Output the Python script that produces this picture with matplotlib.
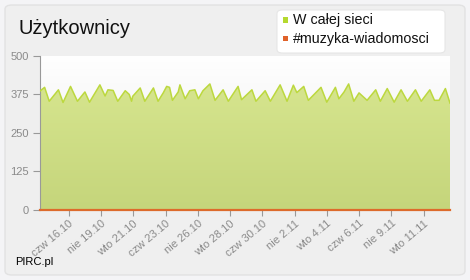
import matplotlib
matplotlib.use('Agg')
import matplotlib.pyplot as plt
import numpy as np
from matplotlib.patches import FancyBboxPatch

plt.rcParams['font.family'] = ['Liberation Sans', 'DejaVu Sans']

# hours since start of range, and user counts (W całej sieci)
hours = [0, 8, 16, 32, 40, 53, 65, 78, 86, 104, 113, 118, 127, 135, 148, 155,
         159, 161, 174, 182, 197, 205, 214, 220, 225, 230, 240, 243, 252, 260,
         269, 275, 283, 295, 304, 318, 327, 339, 344, 350, 359, 368, 375, 391,
         400, 417, 429, 440, 446, 458, 466, 488, 498, 513, 519, 528, 536, 545,
         554, 568, 583, 591, 603, 615, 627, 638, 652, 662, 677, 685, 693, 704, 712]
users_all = [385, 397, 352, 389, 348, 400, 352, 382, 349, 405, 369, 389, 387, 352, 386, 374,
             352, 368, 395, 352, 395, 352, 379, 400, 397, 355, 382, 405, 360, 386,
             389, 360, 386, 408, 355, 389, 352, 386, 400, 357, 373, 389, 352, 386,
             352, 405, 352, 404, 380, 400, 355, 397, 349, 397, 360, 382, 408, 352,
             379, 355, 389, 352, 393, 349, 389, 352, 389, 352, 389, 355, 355, 393, 346]
# channel #muzyka-wiadomosci is practically zero
users_chan = [0] * len(hours)

tick_labels = ['czw 16.10', 'nie 19.10', 'wto 21.10', 'czw 23.10', 'nie 26.10', 'wto 28.10',
               'czw 30.10', 'nie 2.11', 'wto 4.11', 'czw 6.11', 'nie 9.11', 'wto 11.11']
tick_hours = [50 + 56 * i for i in range(len(tick_labels))]
y_ticks = [0, 125, 250, 375, 500]

W, H = 470, 280
fig = plt.figure(figsize=(W / 100, H / 100), dpi=100)
fig.patch.set_facecolor('#f4f4f6')

# outer panel
panel = FancyBboxPatch((5 / W, 5 / H), 460 / W, 270 / H,
                       boxstyle='round,pad=0,rounding_size=0.015',
                       transform=fig.transFigure, facecolor='#efefef',
                       edgecolor='#e2e2e2', linewidth=1, zorder=-10)
fig.patches.append(panel)

ax = fig.add_axes([40 / W, 70 / H, 410 / W, 154.5 / H])
ax.set_zorder(1)

# plot background gradient (white top -> light grey)
bg = np.linspace(0, 1, 256).reshape(-1, 1)
ax.imshow(bg, extent=[0, 712, 0, 500], aspect='auto', origin='lower',
          cmap=matplotlib.colors.LinearSegmentedColormap.from_list('bg', ['#e9e9e9', '#ffffff']),
          zorder=0)

# filled area with vertical gradient
poly = ax.fill_between(hours, 0, users_all, facecolor='none', edgecolor='none')
grad = ax.imshow(np.linspace(0, 1, 256).reshape(-1, 1), extent=[0, 712, 0, 410],
                 aspect='auto', origin='lower', zorder=1,
                 cmap=matplotlib.colors.LinearSegmentedColormap.from_list('fill', ['#c5d57b', '#d6e58e']))
grad.set_clip_path(poly.get_paths()[0], ax.transData)
ax.set_xlim(0, 712)
ax.set_ylim(0, 500)
ax.plot(hours, users_all, color='#bcd83e', linewidth=1.1, zorder=3)
ax.plot(hours, users_chan, color='#dd6b2c', linewidth=1.6, zorder=4, clip_on=False)

ax.set_yticks(y_ticks)
ax.set_yticklabels([str(v) for v in y_ticks], color='#8a8a8a', fontsize=8)
ax.set_xticks(tick_hours)
ax.set_xticklabels(tick_labels, rotation=40, ha='right', rotation_mode='anchor',
                   color='#8a8a8a', fontsize=8)
ax.tick_params(axis='y', length=5, color='#999999', pad=3)
ax.tick_params(axis='x', length=4, color='#999999', pad=2)
for s in ['top', 'right', 'bottom']:
    ax.spines[s].set_visible(False)
ax.spines['left'].set_color('#999999')
ax.spines['left'].set_linewidth(0.8)

fig.text(18 / W, 1 - 29 / H, 'Użytkownicy', fontsize=14.5, color='#111111', va='center', ha='left')
fig.text(15 / W, 1 - 262 / H, 'PIRC.pl', fontsize=8, color='#000000', va='center', ha='left')

# legend box
leg = FancyBboxPatch((277 / W, 1 - 53 / H), 168 / W, 43 / H,
                     boxstyle='round,pad=0,rounding_size=0.012',
                     transform=fig.transFigure, facecolor='white',
                     edgecolor='#e6e6e6', linewidth=0.8, zorder=5)
fig.patches.append(leg)
for i, (name, col) in enumerate([('W całej sieci', '#b5d92f'), ('#muzyka-wiadomosci', '#e0622a')]):
    yc = 1 - (20 + 19 * i) / H
    fig.patches.append(plt.Rectangle((283 / W, yc - 2.5 / H), 5 / W, 5 / H,
                                     transform=fig.transFigure, facecolor=col,
                                     edgecolor='none', zorder=6))
    fig.text(293 / W, yc, name, fontsize=10.3, color='#111111', va='center', ha='left', zorder=7)

fig.savefig('out.png', dpi=100)
